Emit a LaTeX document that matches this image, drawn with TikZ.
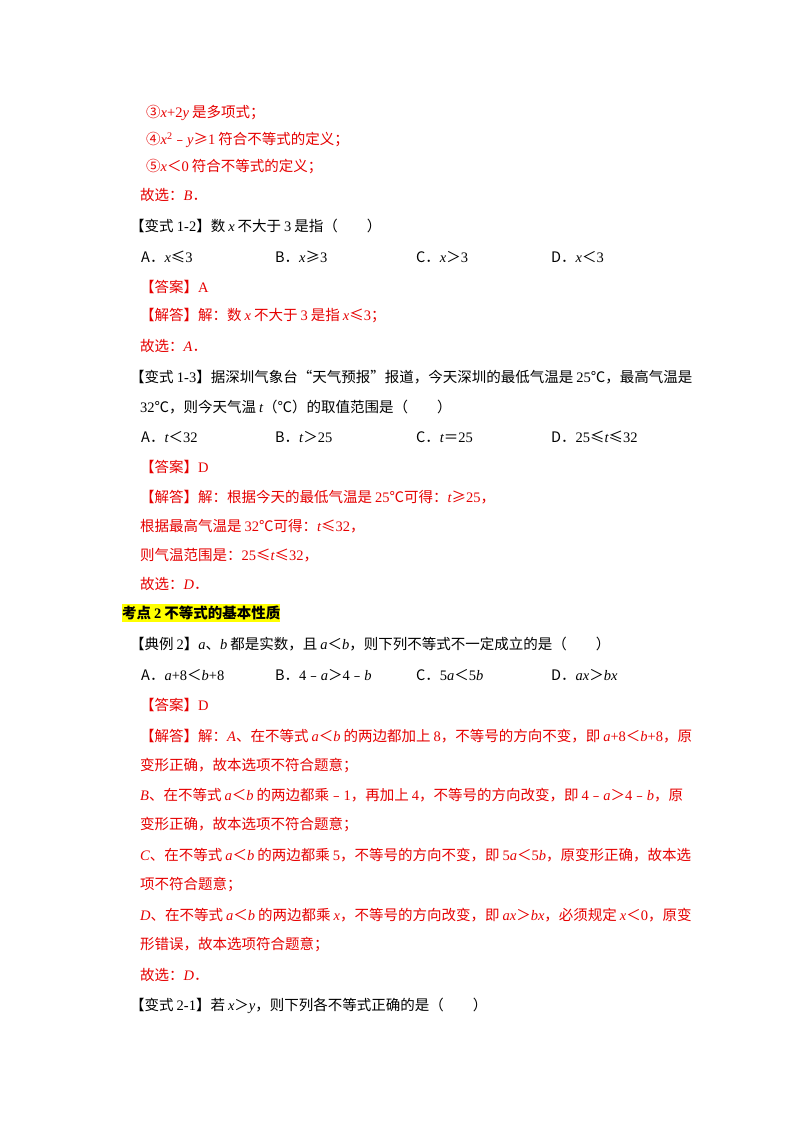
\documentclass[tikz,border=0pt]{standalone}
\usepackage{fontspec}
\setmainfont{Noto Sans CJK SC}
\newfontfamily\ser{Liberation Serif}
\newcommand\mi[1]{{\ser\itshape #1}}
\newcommand\mn[1]{{\ser #1}}
\newcommand\gp{\hspace{3pt}}
\definecolor{ans}{RGB}{230,0,0}
\definecolor{hl}{RGB}{255,255,0}
\begin{document}
\begin{tikzpicture}[x=1pt,y=-1pt,
  t/.style={anchor=west,inner sep=0pt,font=\fontsize{14.5}{17}\selectfont},
  r/.style={t,text=ans}]
\useasboundingbox[fill=white] (0,0) rectangle (800,1132);
\node[r] (l1) at (146,113) {③\mi{x}\mn{+2}\mi{y}\gp 是多项式；};
\node[r] (l2) at (146,140) {④\mi{x}\textsuperscript{\mn{2}}﹣\mi{y}≥\mn{1}\gp 符合不等式的定义；};
\node[r] (l3) at (146,167) {⑤\mi{x}＜\mn{0}\gp 符合不等式的定义；};
\node[r] (l4) at (140,195) {故选：\mi{B}．};
\node[t] (l5) at (130,226) {【变式 \mn{1-2}】数\gp\mi{x}\gp 不大于\gp\mn{3}\gp 是指（　　）};
\node[t] (a1) at (141,257) {A．\mi{x}≤\mn{3}};
\node[t] (b1) at (275,257) {B．\mi{x}≥\mn{3}};
\node[t] (c1) at (416,257) {C．\mi{x}＞\mn{3}};
\node[t] (d1) at (551,257) {D．\mi{x}＜\mn{3}};
\node[r] (l6) at (140,287) {【答案】\mn{A}};
\node[r] (l7) at (140,316) {【解答】解：数\gp\mi{x}\gp 不大于\gp\mn{3}\gp 是指\gp\mi{x}≤\mn{3}；};
\node[r] (l8) at (140,346) {故选：\mi{A}．};
\node[t] (l9) at (130,377) {【变式 \mn{1-3}】据深圳气象台“天气预报”报道，今天深圳的最低气温是\gp\mn{25}℃，最高气温是};
\node[t] (l10) at (140,407) {\mn{32}℃，则今天气温\gp\mi{t}（℃）的取值范围是（　　）};
\node[t] (a2) at (141,437) {A．\mi{t}＜\mn{32}};
\node[t] (b2) at (275,437) {B．\mi{t}＞\mn{25}};
\node[t] (c2) at (416,437) {C．\mi{t}＝\mn{25}};
\node[t] (d2) at (551,437) {D．\mn{25}≤\mi{t}≤\mn{32}};
\node[r] (l11) at (140,467) {【答案】\mn{D}};
\node[r] (l12) at (140,497) {【解答】解：根据今天的最低气温是\gp\mn{25}℃可得：\mi{t}≥\mn{25}，};
\node[r] (l13) at (140,526) {根据最高气温是\gp\mn{32}℃可得：\mi{t}≤\mn{32}，};
\node[r] (l14) at (140,555) {则气温范围是：\mn{25}≤\mi{t}≤\mn{32}，};
\node[r] (l15) at (140,584) {故选：\mi{D}．};
\node[t,fill=hl,inner ysep=2pt,font=\fontsize{14.5}{17}\selectfont\bfseries] (h) at (122,613) {考点\gp{\ser\bfseries 2}\gp 不等式的基本性质};
\node[t] (l16) at (130,644) {【典例\gp\mn{2}】\mi{a}、\mi{b}\gp 都是实数，且\gp\mi{a}＜\mi{b}，则下列不等式不一定成立的是（　　）};
\node[t] (a3) at (141,675) {A．\mi{a}\mn{+8}＜\mi{b}\mn{+8}};
\node[t] (b3) at (275,675) {B．\mn{4}﹣\mi{a}＞\mn{4}﹣\mi{b}};
\node[t] (c3) at (416,675) {C．\mn{5}\mi{a}＜\mn{5}\mi{b}};
\node[t] (d3) at (551,675) {D．\mi{ax}＞\mi{bx}};
\node[r] (l17) at (140,705) {【答案】\mn{D}};
\node[r] (l18) at (140,736) {【解答】解：\mi{A}、在不等式\gp\mi{a}＜\mi{b}\gp 的两边都加上\gp\mn{8}，不等号的方向不变，即\gp\mi{a}\mn{+8}＜\mi{b}\mn{+8}，原};
\node[r] (l19) at (140,766) {变形正确，故本选项不符合题意；};
\node[r] (l20) at (140,795) {\mi{B}、在不等式\gp\mi{a}＜\mi{b}\gp 的两边都乘﹣\mn{1}，再加上\gp\mn{4}，不等号的方向改变，即\gp\mn{4}﹣\mi{a}＞\mn{4}﹣\mi{b}，原};
\node[r] (l21) at (140,825) {变形正确，故本选项不符合题意；};
\node[r] (l22) at (140,855) {\mi{C}、在不等式\gp\mi{a}＜\mi{b}\gp 的两边都乘\gp\mn{5}，不等号的方向不变，即\gp\mn{5}\mi{a}＜\mn{5}\mi{b}，原变形正确，故本选};
\node[r] (l23) at (140,885) {项不符合题意；};
\node[r] (l24) at (140,915) {\mi{D}、在不等式\gp\mi{a}＜\mi{b}\gp 的两边都乘\gp\mi{x}，不等号的方向改变，即\gp\mi{ax}＞\mi{bx}，必须规定\gp\mi{x}＜\mn{0}，原变};
\node[r] (l25) at (140,945) {形错误，故本选项符合题意；};
\node[r] (l26) at (140,975) {故选：\mi{D}．};
\node[t] (l27) at (130,1006) {【变式\gp\mn{2-1}】若\gp\mi{x}＞\mi{y}，则下列各不等式正确的是（　　）};
\end{tikzpicture}
\end{document}
